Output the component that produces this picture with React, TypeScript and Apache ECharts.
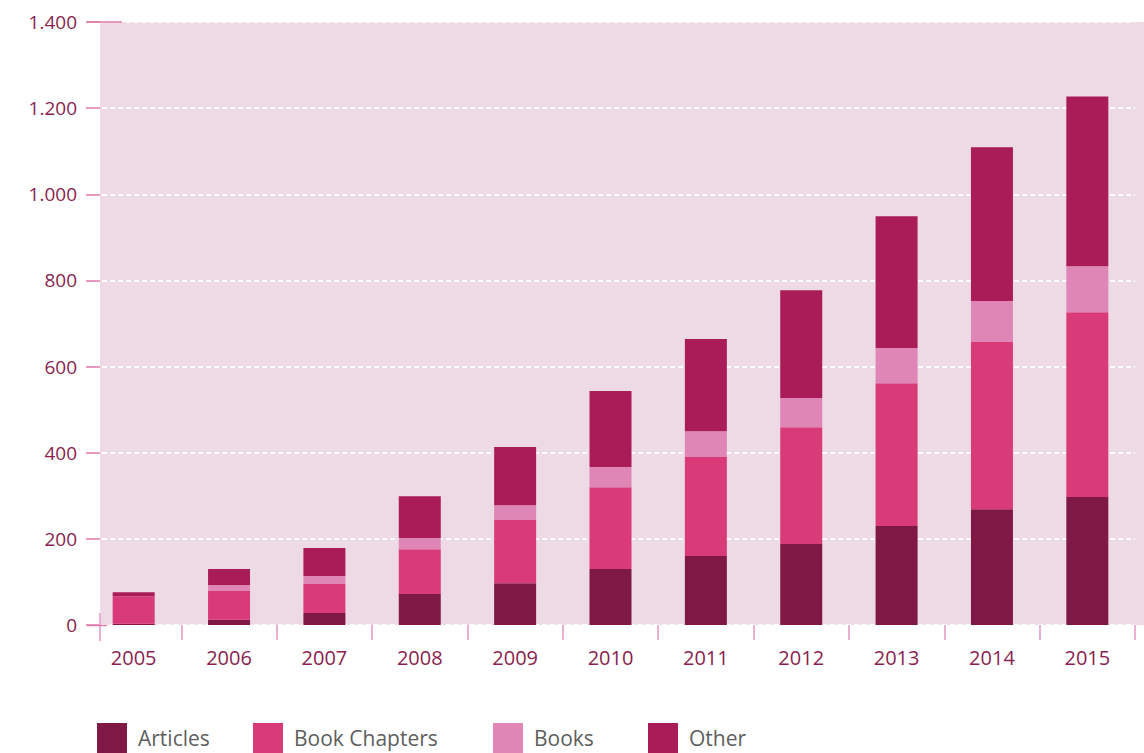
import React, { useEffect, useRef } from "react";
import * as echarts from "echarts";

const years = ["2005", "2006", "2007", "2008", "2009", "2010", "2011", "2012", "2013", "2014", "2015"];
const articles = [3, 12, 28, 72, 97, 130, 160, 188, 230, 269, 297];
const bookChapters = [64, 67, 67, 104, 147, 190, 230, 271, 331, 388, 429];
const books = [0, 14, 19, 26, 34, 47, 60, 68, 82, 95, 107];
const other = [9, 37, 65, 97, 135, 176, 214, 250, 306, 357, 394];

const seriesNames = ["Articles", "Book Chapters", "Books", "Other"];
const seriesColors = ["#7f1845", "#d93a78", "#df86b6", "#a91c57"];
const legendLefts = [97, 253, 493, 648];

const FONT = "'Open Sans', sans-serif";
const LABEL = "#8a1f50";

export default function App() {
  const ref = useRef<HTMLDivElement>(null);
  useEffect(() => {
    document.body.style.margin = "0";
    const chart = echarts.init(ref.current!, null, { renderer: "svg" });
    const data = [articles, bookChapters, books, other];
    chart.setOption({
      animation: false,
      grid: { left: 86, right: 9, top: 22, bottom: 128, containLabel: false },
      graphic: [
        { type: "rect", z: -10, shape: { x: 100, y: 22, width: 1044, height: 603 }, style: { fill: "#eddae4" } },
        { type: "line", z: 10, shape: { x1: 87, y1: 22, x2: 122, y2: 22 }, style: { stroke: "#e07aaa", lineWidth: 1.5 } },
        { type: "line", z: 10, shape: { x1: 100, y1: 613, x2: 100, y2: 641 }, style: { stroke: "#eab0cf", lineWidth: 2 } },
        { type: "line", z: 10, shape: { x1: 87, y1: 625.5, x2: 107, y2: 625.5 }, style: { stroke: "#e07aaa", lineWidth: 1.5 } },
      ],
      legend: seriesNames.map((n, i) => ({
        data: [n],
        left: legendLefts[i],
        top: 723,
        padding: 0,
        itemWidth: 30,
        itemHeight: 30,
        icon: "rect",
        selectedMode: false,
        textStyle: { fontFamily: FONT, fontSize: 21, lineHeight: 26, color: "#5e5e5e", padding: [0, 0, 0, 6] },
      })),
      xAxis: {
        type: "category",
        data: years,
        axisLine: { show: false },
        axisTick: {
          show: true,
          length: 15,
          interval: (index: number) => index !== 0,
          lineStyle: { color: "#eab0cf", width: 2 },
        },
        axisLabel: { margin: 22, fontFamily: FONT, fontSize: 20, color: LABEL },
      },
      yAxis: {
        type: "value",
        min: 0,
        max: 1400,
        interval: 200,
        axisLine: { show: false },
        axisTick: { show: true, inside: true, length: 14, lineStyle: { color: "#e07aaa", width: 1.5 } },
        axisLabel: {
          margin: 9,
          fontFamily: FONT,
          fontSize: 19,
          color: LABEL,
          formatter: (v: number) => String(v).replace(/\B(?=(\d{3})+(?!\d))/g, "."),
        },
        splitLine: {
          show: true,
          lineStyle: { color: "#ffffff", width: 2, type: [5, 3] },
        },
      },
      series: seriesNames.map((n, i) => ({
        name: n,
        type: "bar",
        stack: "total",
        barWidth: 42,
        data: data[i],
        itemStyle: { color: seriesColors[i] },
      })),
    });
    return () => chart.dispose();
  }, []);
  return <div ref={ref} style={{ width: 1144, height: 753 }} />;
}
